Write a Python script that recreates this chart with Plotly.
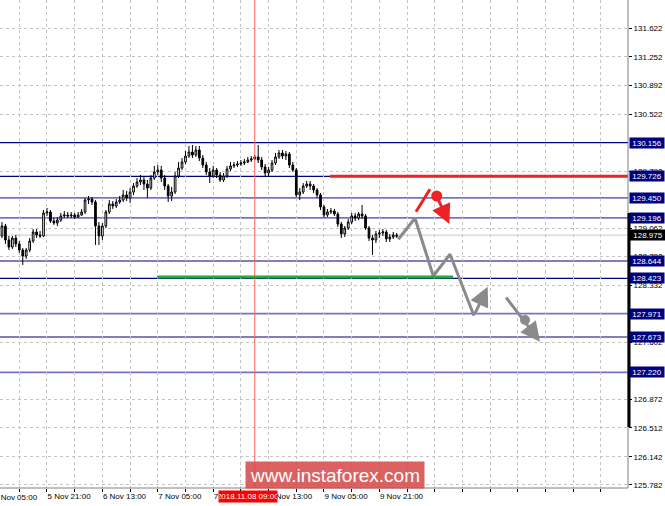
import plotly.graph_objects as go

# ---------------- data ----------------
bar_index = list(range(3, 118))  # hourly bars, 0 = 5 Nov 05:00

open_ = [128.964, 129.092, 128.913, 128.823, 128.938, 128.862, 128.785, 128.708, 128.785, 128.900,
         129.015, 128.977, 128.964, 129.258, 129.271, 129.156, 129.130, 129.168, 129.220, 129.232,
         129.220, 129.232, 129.207, 129.232, 129.271, 129.424, 129.437, 129.398, 129.092, 128.964,
         129.092, 129.271, 129.373, 129.347, 129.398, 129.424, 129.488, 129.450, 129.526, 129.603,
         129.654, 129.680, 129.628, 129.577, 129.705, 129.782, 129.807, 129.705, 129.603, 129.475,
         129.526, 129.731, 129.833, 129.910, 129.986, 130.037, 129.999, 130.063, 129.961, 129.871,
         129.782, 129.731, 129.807, 129.744, 129.680, 129.731, 129.820, 129.859, 129.871, 129.884,
         129.897, 129.910, 129.935, 129.948, 129.974, 129.935, 129.846, 129.769, 129.807, 129.897,
         129.974, 130.025, 129.986, 130.012, 129.871, 129.807, 129.488, 129.526, 129.603, 129.628,
         129.603, 129.552, 129.488, 129.335, 129.232, 129.271, 129.283, 129.245, 129.117, 128.990,
         129.066, 129.143, 129.220, 129.194, 129.245, 129.220, 129.066, 128.938, 128.913, 128.990,
         129.002, 129.015, 128.926, 128.951, 128.960]
high_ = [129.143, 129.117, 128.964, 128.964, 128.977, 128.900, 128.811, 128.811, 128.938, 129.053,
         129.053, 129.028, 129.296, 129.322, 129.296, 129.194, 129.207, 129.258, 129.283, 129.271,
         129.271, 129.258, 129.271, 129.309, 129.450, 129.475, 129.462, 129.424, 129.143, 129.130,
         129.296, 129.424, 129.411, 129.437, 129.475, 129.552, 129.539, 129.577, 129.641, 129.705,
         129.744, 129.731, 129.680, 129.744, 129.859, 129.871, 129.859, 129.744, 129.628, 129.590,
         129.782, 129.910, 129.961, 130.050, 130.114, 130.127, 130.114, 130.114, 129.999, 129.910,
         129.833, 129.859, 129.833, 129.782, 129.769, 129.859, 129.910, 129.910, 129.922, 129.935,
         129.948, 129.974, 129.986, 129.999, 130.127, 129.974, 129.884, 129.846, 129.935, 130.025,
         130.063, 130.063, 130.050, 130.037, 129.910, 129.833, 129.577, 129.641, 129.667, 129.667,
         129.628, 129.577, 129.513, 129.360, 129.309, 129.322, 129.309, 129.271, 129.143, 129.092,
         129.181, 129.258, 129.258, 129.271, 129.360, 129.245, 129.092, 128.977, 129.028, 129.041,
         129.053, 129.041, 128.990, 129.015, 129.002]
low_ = [128.938, 128.862, 128.785, 128.798, 128.823, 128.747, 128.593, 128.670, 128.759, 128.874,
        128.938, 128.938, 128.951, 129.220, 129.130, 129.105, 129.092, 129.143, 129.194, 129.194,
        129.194, 129.181, 129.194, 129.220, 129.245, 129.373, 129.360, 128.849, 128.849, 128.913,
        129.066, 129.245, 129.309, 129.322, 129.373, 129.398, 129.411, 129.386, 129.488, 129.577,
        129.616, 129.552, 129.450, 129.552, 129.680, 129.744, 129.654, 129.552, 129.398, 129.411,
        129.501, 129.705, 129.807, 129.884, 129.961, 129.961, 129.974, 129.922, 129.833, 129.744,
        129.641, 129.705, 129.705, 129.654, 129.654, 129.705, 129.795, 129.833, 129.846, 129.859,
        129.871, 129.897, 129.910, 129.935, 129.897, 129.807, 129.731, 129.718, 129.782, 129.871,
        129.948, 129.948, 129.935, 129.833, 129.782, 129.462, 129.424, 129.501, 129.577, 129.552,
        129.513, 129.450, 129.296, 129.194, 129.207, 129.245, 129.220, 129.079, 128.938, 128.951,
        129.041, 129.117, 129.156, 129.168, 129.181, 129.041, 128.900, 128.721, 128.874, 128.938,
        128.964, 128.887, 128.887, 128.926, 128.938]
close_ = [129.092, 128.913, 128.823, 128.938, 128.862, 128.785, 128.708, 128.785, 128.900, 129.015,
          128.977, 128.964, 129.258, 129.271, 129.156, 129.130, 129.168, 129.220, 129.232, 129.220,
          129.232, 129.207, 129.232, 129.271, 129.424, 129.437, 129.398, 129.092, 128.964, 129.092,
          129.271, 129.373, 129.347, 129.398, 129.424, 129.488, 129.450, 129.526, 129.603, 129.654,
          129.680, 129.628, 129.577, 129.705, 129.782, 129.807, 129.705, 129.603, 129.475, 129.526,
          129.731, 129.833, 129.910, 129.986, 130.037, 129.999, 130.063, 129.961, 129.871, 129.782,
          129.731, 129.807, 129.744, 129.680, 129.731, 129.820, 129.859, 129.871, 129.884, 129.897,
          129.910, 129.935, 129.948, 129.974, 129.935, 129.846, 129.769, 129.807, 129.897, 129.974,
          130.025, 129.986, 130.012, 129.871, 129.807, 129.488, 129.526, 129.603, 129.628, 129.603,
          129.552, 129.488, 129.335, 129.232, 129.271, 129.283, 129.245, 129.117, 128.990, 129.066,
          129.143, 129.220, 129.194, 129.245, 129.220, 129.066, 128.938, 128.913, 128.990, 129.002,
          129.015, 128.926, 128.951, 128.977, 128.975]

# horizontal levels
dark_levels = [130.156, 129.726, 128.644, 128.423, 127.673]
light_levels = [129.450, 129.196, 127.971, 127.220]
current_price = 128.975

# price axis ticks (those that sit right under a level label are hidden by it)
y_ticks = [131.622, 131.252, 130.892, 130.522, 129.792, 129.062, 128.702,
           128.332, 127.602, 126.872, 126.512, 126.142, 125.782]

# time axis (bar index of each grid line and its label)
x_grid = [8, 16, 24, 32, 40, 48, 56, 64, 72, 80, 88, 96, 104, 112, 120, 128, 136, 144, 152, 160, 168, 176]
x_labels = ["", "5 Nov 21:00", "", "6 Nov 13:00", "", "7 Nov 05:00", "", "7 Nov 21:00", "", "8 Nov 13:00",
            "", "9 Nov 05:00", "", "9 Nov 21:00", "", "", "", "", "", "", "", ""]
first_label = "5 Nov 05:00"
cursor_bar = 76
cursor_label = "2018.11.08 09:00"

# drawn forecast marks (bar index, price)
resist_red = {"x0": 97.7, "y": 129.726}
support_green = {"x0": 47.8, "x1": 133.3, "y": 128.44}
gray_path_x = [117.46, 122.28, 127.57, 132.39, 139.32]
gray_path_y = [128.922, 129.190, 128.453, 128.730, 127.945]
gray_arrow1 = {"x0": 139.32, "y0": 127.945, "x1": 143.28, "y1": 128.316}
gray_arrow2 = {"x0": 148.27, "y0": 128.197, "x1": 158.38, "y1": 127.613}
gray_dot = {"x": 154.05, "y": 127.890}
red_stroke = {"x0": 122.57, "y0": 129.274, "x1": 126.61, "y1": 129.561}
red_dot = {"x": 128.55, "y": 129.475}
red_arrow = {"x0": 128.55, "y0": 129.475, "x1": 132.19, "y1": 129.117}

FONT = "Liberation Sans, Arial, sans-serif"
NAVY = "#000080"
LIGHT = "#7474c4"
GRAY = "#8a8a8a"
RED = "#ee2222"

fig = go.Figure()

fig.add_trace(go.Candlestick(
    x=bar_index, open=open_, high=high_, low=low_, close=close_,
    increasing=dict(fillcolor="white", line=dict(color="black", width=1)),
    decreasing=dict(fillcolor="black", line=dict(color="black", width=1)),
    whiskerwidth=0, showlegend=False, hoverinfo="skip"))

shapes = []
for v in dark_levels:
    shapes.append(dict(type="line", xref="paper", x0=0, x1=1, yref="y", y0=v, y1=v,
                       line=dict(color=NAVY, width=1.2), layer="between"))
for v in light_levels:
    shapes.append(dict(type="line", xref="paper", x0=0, x1=1, yref="y", y0=v, y1=v,
                       line=dict(color=LIGHT, width=1.8), layer="between"))
shapes.append(dict(type="line", xref="paper", x0=0, x1=1, yref="y", y0=current_price, y1=current_price,
                   line=dict(color="#c8c8c8", width=1), layer="between"))
# cursor vertical line
shapes.append(dict(type="line", xref="x", x0=cursor_bar, x1=cursor_bar, yref="paper", y0=0, y1=1,
                   line=dict(color="#ff6060", width=1)))
# red resistance & green support
shapes.append(dict(type="line", xref="x", x0=resist_red["x0"], x1=190, yref="y",
                   y0=resist_red["y"], y1=resist_red["y"], line=dict(color=RED, width=3)))
shapes.append(dict(type="line", xref="x", x0=support_green["x0"], x1=support_green["x1"], yref="y",
                   y0=support_green["y"], y1=support_green["y"], line=dict(color="#2aa836", width=3)))
# red stroke
shapes.append(dict(type="line", xref="x", yref="y", x0=red_stroke["x0"], y0=red_stroke["y0"],
                   x1=red_stroke["x1"], y1=red_stroke["y1"], line=dict(color=RED, width=3)))
# frame
shapes.append(dict(type="line", xref="paper", yref="paper", x0=1, x1=1, y0=0, y1=1,
                   line=dict(color="#808080", width=1)))
shapes.append(dict(type="line", xref="paper", yref="paper", x0=0, x1=1, y0=0, y1=0,
                   line=dict(color="#808080", width=1)))
shapes.append(dict(type="rect", xref="paper", yref="paper", x0=0.9992, x1=1.0040, y0=0.125, y1=0.5635,
                   fillcolor="black", line=dict(width=0), layer="above"))

fig.add_trace(go.Scatter(x=gray_path_x, y=gray_path_y, mode="lines",
                         line=dict(color=GRAY, width=3), showlegend=False, hoverinfo="skip"))
fig.add_trace(go.Scatter(x=[gray_dot["x"]], y=[gray_dot["y"]], mode="markers",
                         marker=dict(color=GRAY, size=10), showlegend=False, hoverinfo="skip"))
fig.add_trace(go.Scatter(x=[red_dot["x"]], y=[red_dot["y"]], mode="markers",
                         marker=dict(color=RED, size=11), showlegend=False, hoverinfo="skip"))

annotations = []
for arr, col in [(gray_arrow1, GRAY), (gray_arrow2, GRAY), (red_arrow, RED)]:
    annotations.append(dict(x=arr["x1"], y=arr["y1"], ax=arr["x0"], ay=arr["y0"],
                            xref="x", yref="y", axref="x", ayref="y", text="",
                            showarrow=True, arrowhead=2, arrowsize=1.3, arrowwidth=3,
                            arrowcolor=col, standoff=0, startstandoff=0))

for v in dark_levels + light_levels:
    annotations.append(dict(xref="paper", x=1, xanchor="left", xshift=1, yref="y", y=v,
                            yanchor="middle", text=f"{v:.3f}", showarrow=False,
                            bgcolor=NAVY, font=dict(color="white", size=8, family=FONT),
                            width=34, height=10, borderpad=0, align="center"))
annotations.append(dict(xref="paper", x=1, xanchor="left", xshift=1, yref="y", y=current_price,
                        yanchor="middle", text=f"{current_price:.3f}", showarrow=False,
                        bgcolor="black", font=dict(color="white", size=8, family=FONT),
                        width=36, height=10, borderpad=0, align="center"))
annotations.append(dict(xref="paper", x=-0.0134, xanchor="left", yref="paper", y=0, yanchor="top",
                        yshift=-3, text=first_label, showarrow=False,
                        font=dict(color="black", size=8, family=FONT)))
annotations.append(dict(xref="x", x=cursor_bar, xanchor="center", xshift=-7, yref="paper", y=0,
                        yanchor="top", yshift=-2, text=cursor_label, showarrow=False,
                        bgcolor="#ff0000", font=dict(color="white", size=8, family=FONT),
                        width=58, height=11, borderpad=0))
annotations.append(dict(xref="paper", x=0.390, xanchor="left", yref="paper", y=-0.002, yanchor="bottom",
                        text="www.instaforex.com", showarrow=False,
                        bgcolor="rgba(214,70,70,0.85)", font=dict(color="white", size=19, family=FONT),
                        width=178, height=26, borderpad=0))

fig.update_layout(
    width=665, height=506, margin=dict(l=0, r=37, t=0, b=18),
    paper_bgcolor="white", plot_bgcolor="white",
    font=dict(family=FONT, size=8, color="black"),
    shapes=shapes, annotations=annotations, showlegend=False,
    xaxis=dict(range=[2.43, 183.8], tickmode="array", tickvals=x_grid, ticktext=x_labels,
               showgrid=True, gridcolor="#c4c4c4", griddash="3px,3px", gridwidth=1,
               ticks="outside", ticklen=3, tickcolor="black", ticklabelposition="outside right",
               tickfont=dict(size=8, family=FONT, color="black"),
               rangeslider=dict(visible=False), zeroline=False, showline=False, fixedrange=True,
               automargin=False),
    yaxis=dict(range=[125.743, 131.980], side="right", tickmode="array", tickvals=y_ticks,
               ticktext=[f"{v:.3f}" for v in y_ticks],
               showgrid=True, gridcolor="#c4c4c4", griddash="3px,3px", gridwidth=1,
               ticks="outside", ticklen=3, tickcolor="black",
               tickfont=dict(size=8, family=FONT, color="black"),
               zeroline=False, showline=False, fixedrange=True, automargin=False),
)

fig.write_html("out.html", config={"displayModeBar": False},
               post_script="document.body.style.margin='0px';document.body.style.overflow='hidden';")
